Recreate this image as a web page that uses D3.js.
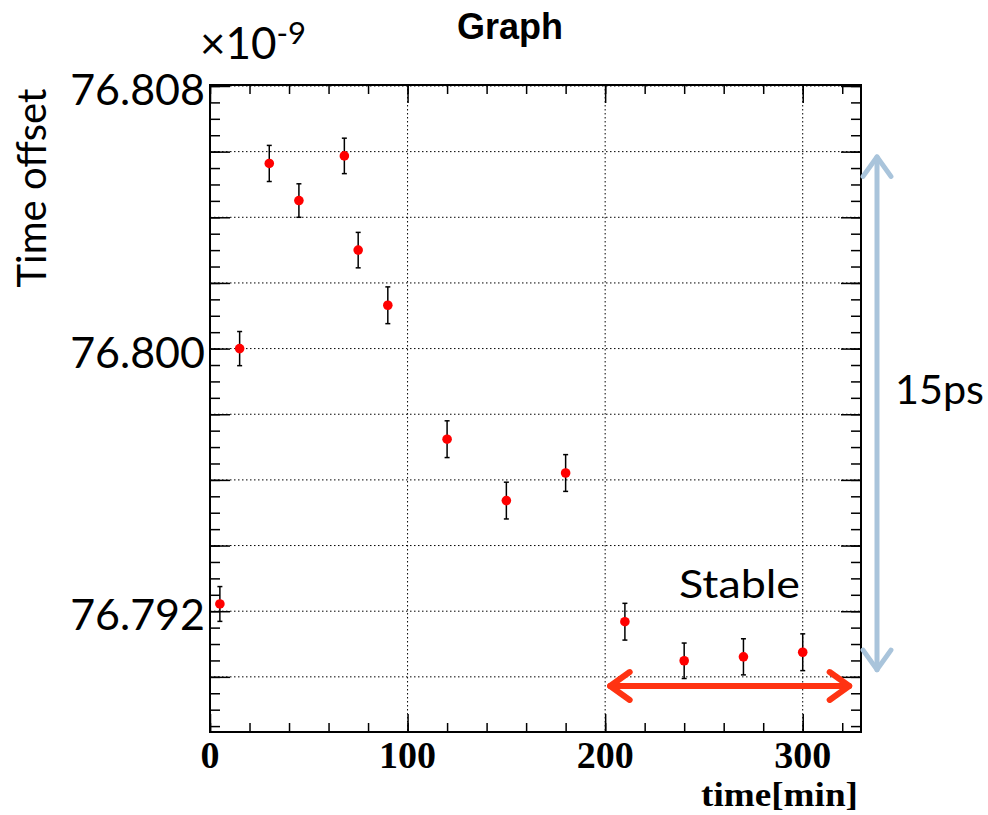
<!DOCTYPE html>
<html>
<head>
<meta charset="utf-8">
<script src="https://cdn.jsdelivr.net/npm/d3@7"></script>
<style>
	body { margin: 0; background: #fff; }
	svg { display: block; }
	.sans { font-family: Lato, "Open Sans", sans-serif; }
	.serif { font-family: "Liberation Serif", "Times New Roman", serif; font-weight: bold; }
</style>
</head>
<body>
<div id="chart"></div>
<script>
// Data (time offset in units of 1e-9 s)
const timeMin = [5, 15, 30, 45, 68, 75, 90, 120, 150, 180, 210, 240, 270, 300]
const offsetNs = [76.79222, 76.80000, 76.80564, 76.80451, 76.80587, 76.80300, 76.80132,
	76.79724, 76.79537, 76.79621, 76.79168, 76.79049, 76.79061, 76.79075]
const errNs = [0.00053, 0.00052, 0.00055, 0.00051, 0.00054, 0.00054, 0.00056,
	0.00056, 0.00056, 0.00056, 0.00056, 0.00054, 0.00055, 0.00056]
const xMajor = [0, 100, 200, 300]
const yLabels = [76.792, 76.800, 76.808]
const stableRange = [200, 321]
const spanRange = [76.79022, 76.80584]

// Chart dimensions
const chartWidth = 988
const chartHeight = 815
const plotLeft = 210, plotRight = 861, plotTop = 85, plotBottom = 732

let scaleX = d3.scaleLinear()
	.domain([0, 329.5])
	.range([plotLeft, plotRight])
let scaleY = d3.scaleLinear()
	.domain([76.78832, 76.80803])
	.range([plotBottom, plotTop])

// tick value helpers
function stepValues(lo, hi, step) {
	let out = []
	let k0 = Math.ceil(lo / step - 1e-6), k1 = Math.floor(hi / step + 1e-6)
	for (let k = k0; k <= k1; k++) out.push(+(k * step).toFixed(6))
	return out
}
let xMinor = stepValues(0, 329.5, 20)
let yMid = stepValues(76.78832, 76.80803, 0.002)
let yMinor = stepValues(76.78832, 76.80803, 0.0005)

let svg = d3.select('#chart')
	.append('svg')
	.attr('width', chartWidth)
	.attr('height', chartHeight)

// Grid
let grid = svg.append('g')
	.attr('stroke', '#000')
	.attr('stroke-width', 1)
	.attr('stroke-dasharray', '1.5,2.5')
grid.selectAll('.gx')
	.data(xMajor.filter(v => v > 0))
	.enter()
	.append('line')
	.attr('x1', d => scaleX(d)).attr('x2', d => scaleX(d))
	.attr('y1', plotTop).attr('y2', plotBottom)
grid.selectAll('.gy')
	.data(yMid)
	.enter()
	.append('line')
	.attr('x1', plotLeft).attr('x2', plotRight)
	.attr('y1', d => scaleY(d)).attr('y2', d => scaleY(d))

// Axes ticks (inside, on all four sides)
function styleAxis(g) {
	g.select('.domain').remove()
	g.selectAll('line').attr('stroke', '#000').attr('stroke-width', 1.5)
	g.selectAll('text').remove()
}
svg.append('g').attr('transform', `translate(0,${plotBottom})`)
	.call(d3.axisBottom(scaleX).tickValues(xMinor).tickSize(-9)).call(styleAxis)
svg.append('g').attr('transform', `translate(0,${plotBottom})`)
	.call(d3.axisBottom(scaleX).tickValues(xMajor).tickSize(-18)).call(styleAxis)
svg.append('g').attr('transform', `translate(0,${plotTop})`)
	.call(d3.axisTop(scaleX).tickValues(xMinor).tickSize(-9)).call(styleAxis)
svg.append('g').attr('transform', `translate(0,${plotTop})`)
	.call(d3.axisTop(scaleX).tickValues(xMajor).tickSize(-18)).call(styleAxis)
svg.append('g').attr('transform', `translate(${plotLeft},0)`)
	.call(d3.axisLeft(scaleY).tickValues(yMinor).tickSize(-10)).call(styleAxis)
svg.append('g').attr('transform', `translate(${plotLeft},0)`)
	.call(d3.axisLeft(scaleY).tickValues(yMid).tickSize(-20)).call(styleAxis)
svg.append('g').attr('transform', `translate(${plotRight},0)`)
	.call(d3.axisRight(scaleY).tickValues(yMinor).tickSize(-10)).call(styleAxis)
svg.append('g').attr('transform', `translate(${plotRight},0)`)
	.call(d3.axisRight(scaleY).tickValues(yMid).tickSize(-20)).call(styleAxis)

// Frame
svg.append('rect')
	.attr('x', plotLeft).attr('y', plotTop)
	.attr('width', plotRight - plotLeft).attr('height', plotBottom - plotTop)
	.attr('fill', 'none')
	.attr('stroke', '#000')
	.attr('stroke-width', 2)

// Tick labels
svg.selectAll('.xlab')
	.data(xMajor)
	.enter()
	.append('text')
	.attr('class', 'serif')
	.attr('x', d => scaleX(d))
	.attr('y', 768)
	.attr('text-anchor', 'middle')
	.attr('font-size', 38)
	.text(d => d)
svg.selectAll('.ylab')
	.data(yLabels)
	.enter()
	.append('text')
	.attr('class', 'sans')
	.attr('x', 205)
	.attr('y', d => scaleY(d) + 19)
	.attr('text-anchor', 'end')
	.attr('font-size', 43)
	.text(d => d.toFixed(3))

// Exponent label
let expo = svg.append('text')
	.attr('class', 'sans')
	.attr('x', 200)
	.attr('y', 59)
	.attr('font-size', 44)
expo.append('tspan').text('\u00d710')
expo.append('tspan').attr('font-size', 31).attr('dy', -15).text('-9')

// Axis titles
svg.append('text')
	.attr('class', 'sans')
	.attr('transform', 'translate(46,188) rotate(-90)')
	.attr('text-anchor', 'middle')
	.attr('font-size', 40)
	.text('Time offset')
svg.append('text')
	.attr('class', 'serif')
	.attr('x', 858)
	.attr('y', 806)
	.attr('text-anchor', 'end')
	.attr('font-size', 33)
	.attr('textLength', 157)
	.attr('lengthAdjust', 'spacingAndGlyphs')
	.text('time[min]')
svg.append('text')
	.attr('x', 510)
	.attr('y', 39)
	.attr('text-anchor', 'middle')
	.attr('font-family', '"Liberation Sans", Arial, sans-serif')
	.attr('font-weight', 'bold')
	.attr('font-size', 36)
	.text('Graph')

// Error bars and markers
let points = timeMin.map((t, i) => ({ t: t, v: offsetNs[i], e: errNs[i] }))
let bars = svg.append('g').attr('stroke', '#000').attr('stroke-width', 1.5)
points.forEach((p) => {
	let cx = scaleX(p.t)
	bars.append('line')
		.attr('x1', cx).attr('x2', cx)
		.attr('y1', scaleY(p.v - p.e)).attr('y2', scaleY(p.v + p.e))
	bars.append('line')
		.attr('x1', cx - 2.5).attr('x2', cx + 2.5)
		.attr('y1', scaleY(p.v - p.e)).attr('y2', scaleY(p.v - p.e))
	bars.append('line')
		.attr('x1', cx - 2.5).attr('x2', cx + 2.5)
		.attr('y1', scaleY(p.v + p.e)).attr('y2', scaleY(p.v + p.e))
})
svg.selectAll('.pt')
	.data(points)
	.enter()
	.append('circle')
	.attr('cx', d => scaleX(d.t))
	.attr('cy', d => scaleY(d.v))
	.attr('r', 4.8)
	.attr('fill', '#ff0000')

// Annotations: double arrows
function doubleArrow(x1, y1, x2, y2, color, width, head) {
	let g = svg.append('g')
		.attr('stroke', color)
		.attr('stroke-width', width)
		.attr('stroke-linecap', 'round')
		.attr('stroke-linejoin', 'round')
		.attr('fill', 'none')
	g.append('line').attr('x1', x1).attr('y1', y1).attr('x2', x2).attr('y2', y2)
	let ang = Math.atan2(y2 - y1, x2 - x1)
	let ends = [[x1, y1, ang], [x2, y2, ang + Math.PI]]
	ends.forEach(([x, y, a]) => {
		let p1 = [x + head * Math.cos(a + 0.62), y + head * Math.sin(a + 0.62)]
		let p2 = [x + head * Math.cos(a - 0.62), y + head * Math.sin(a - 0.62)]
		g.append('path').attr('d', `M${p1[0]},${p1[1]} L${x},${y} L${p2[0]},${p2[1]}`)
	})
}
doubleArrow(scaleX(stableRange[0]) + 5, 686, scaleX(stableRange[1]) + 5, 686, '#ff3312', 6, 24)
doubleArrow(877, scaleY(spanRange[1]), 877, scaleY(spanRange[0]), '#a9c4db', 5, 24)

svg.append('text')
	.attr('class', 'sans')
	.attr('x', 679)
	.attr('y', 598)
	.attr('font-size', 39)
	.attr('textLength', 121)
	.attr('lengthAdjust', 'spacingAndGlyphs')
	.text('Stable')
svg.append('text')
	.attr('class', 'sans')
	.attr('x', 895)
	.attr('y', 404)
	.attr('font-size', 40)
	.attr('textLength', 89)
	.attr('lengthAdjust', 'spacingAndGlyphs')
	.text('15ps')
</script>
</body>
</html>
